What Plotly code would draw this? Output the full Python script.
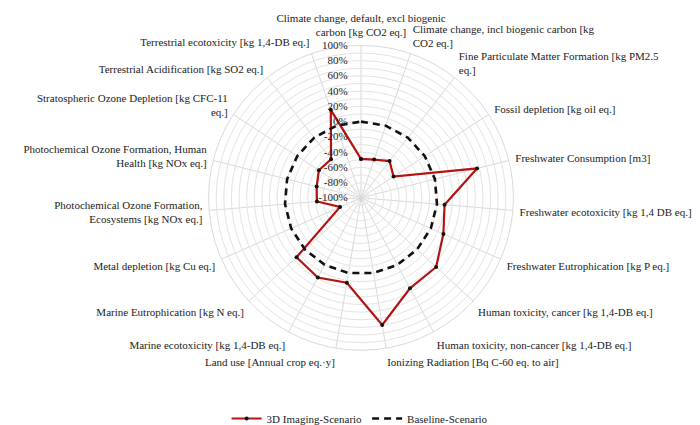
import plotly.graph_objects as go

categories = [
    "Climate change, default, excl biogenic<br>carbon [kg CO2 eq.]",
    "Climate change, incl biogenic carbon [kg<br>CO2 eq.]",
    "Fine Particulate Matter Formation [kg PM2.5<br>eq.]",
    "Fossil depletion [kg oil eq.]",
    "Freshwater Consumption [m3]",
    "Freshwater ecotoxicity [kg 1,4 DB eq.]",
    "Freshwater Eutrophication [kg P eq.]",
    "Human toxicity, cancer [kg 1,4-DB eq.]",
    "Human toxicity, non-cancer [kg 1,4-DB eq.]",
    "Ionizing Radiation [Bq C-60 eq. to air]",
    "Land use [Annual crop eq.·y]",
    "Marine ecotoxicity [kg 1,4-DB eq.]",
    "Marine Eutrophication [kg N eq.]",
    "Metal depletion [kg Cu eq.]",
    "Photochemical Ozone Formation,<br>Ecosystems [kg NOx eq.]",
    "Photochemical Ozone Formation, Human<br>Health [kg NOx eq.]",
    "Stratospheric Ozone Depletion [kg CFC-11<br>eq.]",
    "Terrestrial Acidification [kg SO2 eq.]",
    "Terrestrial ecotoxicity [kg 1,4-DB eq.]",
]

imaging_3d = [-49, -47, -39, -49, 57, 10, 18, 34, 35, 69, 13, 19, 15, -70, -42, -40, -34, -36, 22]
baseline = [0] * len(categories)

tick_values = list(range(-100, 101, 10))
tick_labels = [f"{v}%" if v % 20 == 0 else "" for v in tick_values]

series_names = ["3D Imaging-Scenario", "Baseline-Scenario"]

fig = go.Figure()
fig.add_trace(go.Scatterpolar(
    r=imaging_3d + imaging_3d[:1],
    theta=categories + categories[:1],
    mode="lines+markers",
    name=series_names[0],
    line=dict(color="#B51212", width=2.2),
    marker=dict(color="#111111", size=4),
))
fig.add_trace(go.Scatterpolar(
    r=baseline + baseline[:1],
    theta=categories + categories[:1],
    mode="lines",
    name=series_names[1],
    line=dict(color="#111111", width=2.6, dash="7px,5px"),
))

font_family = "Liberation Serif, Times New Roman, DejaVu Serif, serif"
fig.update_layout(
    width=700, height=425,
    margin=dict(l=0, r=0, t=0, b=0),
    paper_bgcolor="white",
    font=dict(family=font_family, size=11, color="#222222"),
    showlegend=True,
    legend=dict(orientation="h", x=0.503, xanchor="center", y=0.017, yanchor="middle",
                font=dict(family=font_family, size=11, color="#222222"),
                itemwidth=30),
    polar=dict(
        domain=dict(x=[198/700, 508/700], y=[1-348/425, 1-38/425]),
        bgcolor="white",
        angularaxis=dict(
            direction="clockwise", rotation=90,
            showline=True, linecolor="#d9d9d9", linewidth=1,
            gridcolor="#d9d9d9", gridwidth=1,
            ticks="outside", ticklen=4, tickcolor="rgba(0,0,0,0)",
            tickfont=dict(family=font_family, size=11, color="#222222"),
        ),
        radialaxis=dict(
            range=[-100, 100], angle=90, tickangle=90,
            tickvals=tick_values, ticktext=tick_labels,
            showline=False, ticks="outside", ticklen=9, tickcolor="rgba(0,0,0,0)",
            gridcolor="#e3e3e3", gridwidth=1,
            side="counterclockwise",
            tickfont=dict(family=font_family, size=11, color="#222222"),
        ),
    ),
)

fig.write_html("out.html")
